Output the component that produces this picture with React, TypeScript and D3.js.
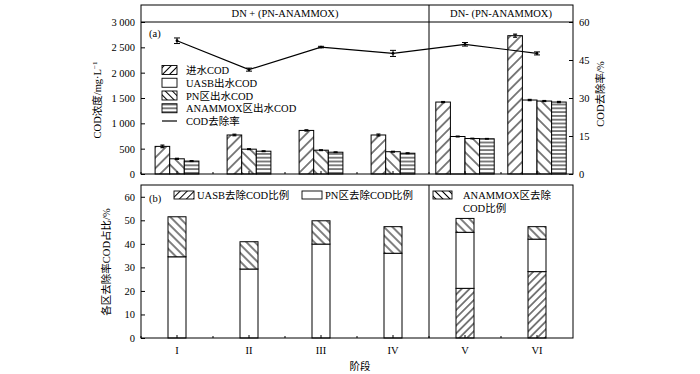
import React, { useEffect, useRef } from "react";
import * as d3 from "d3";

// stages
const stages = ["I", "II", "III", "IV", "V", "VI"];

// (a) COD concentration, mg/L
const inflowCOD = [545, 770, 860, 770, 1420, 2730];
const uasbCOD = [null, null, null, null, 740, 1460];
const pnCOD = [300, 490, 470, 440, 700, 1440];
const anammoxCOD = [255, 450, 430, 410, 695, 1420];
const inflowErr = [25, 15, 12, 18, 10, 30];
const uasbErr = [null, null, null, null, 8, 12];
const pnErr = [10, 8, 8, 8, 6, 10];
const anammoxErr = [8, 8, 6, 8, 6, 12];

// COD removal rate, %
const removalRate = [52.6, 41.2, 50.1, 47.6, 51.2, 47.6];
const removalErr = [1.1, 0.6, 0.3, 1.2, 0.7, 0.6];

// (b) share of removal by zone, %
const uasbShare = [0, 0, 0, 0, 21.1, 28.2];
const pnShare = [34.5, 29.3, 39.9, 36.0, 23.8, 13.8];
const anammoxShare = [17.0, 11.6, 9.9, 11.3, 5.9, 5.3];

const leftTicksA = [0, 500, 1000, 1500, 2000, 2500, 3000];
const rightTicksA = [0, 15, 30, 45, 60];
const ticksB = [0, 10, 20, 30, 40, 50, 60];

const FONT = "'Times New Roman', 'Liberation Serif', 'Noto Sans CJK SC', serif";

export default function App() {
  const svgRef = useRef<SVGSVGElement>(null);

  useEffect(() => {
    const svg = d3.select(svgRef.current);
    svg.selectAll("*").remove();

    const left = 141, right = 573;
    const topA = 5, headA = 22, baseA = 174;
    const topB = 185, baseB = 338;

    const x = d3.scaleBand().domain(stages).range([left, right]);
    const yA = d3.scaleLinear().domain([0, 3000]).range([baseA, headA]);
    const yR = d3.scaleLinear().domain([0, 60]).range([baseA, headA]);
    const yB = d3.scaleLinear().domain([0, 65]).range([baseB, topB]);
    const cx = (s) => x(s) + x.bandwidth() / 2;

    // hatch patterns
    const defs = svg.append("defs");
    const hatch = (id, size, angle) => {
      const p = defs.append("pattern")
        .attr("id", id).attr("patternUnits", "userSpaceOnUse")
        .attr("width", size).attr("height", size)
        .attr("patternTransform", `rotate(${angle})`);
      p.append("rect").attr("width", size).attr("height", size).attr("fill", "#fff");
      p.append("line").attr("x1", size / 2).attr("x2", size / 2).attr("y1", 0).attr("y2", size)
        .attr("stroke", "#000").attr("stroke-width", 1);
    };
    hatch("fwdA", 7.5, 45);
    hatch("bckA", 7.5, -45);
    hatch("fwdB", 5.5, 45);
    hatch("bckB", 6, -45);
    hatch("fwdL", 5, 45);
    hatch("bckL", 5, -45);
    const hz = defs.append("pattern").attr("id", "horz").attr("patternUnits", "userSpaceOnUse")
      .attr("width", 4).attr("height", 3.8);
    hz.append("rect").attr("width", 4).attr("height", 3.8).attr("fill", "#fff");
    hz.append("line").attr("x1", 0).attr("x2", 4).attr("y1", 1.9).attr("y2", 1.9)
      .attr("stroke", "#000").attr("stroke-width", 1);

    const g = svg.append("g").attr("font-family", FONT).attr("fill", "#000");

    // ---------- panel (a) ----------
    const series = [
      { vals: inflowCOD, err: inflowErr, fill: "url(#fwdA)" },
      { vals: uasbCOD, err: uasbErr, fill: "#fff" },
      { vals: pnCOD, err: pnErr, fill: "url(#bckA)" },
      { vals: anammoxCOD, err: anammoxErr, fill: "url(#horz)" },
    ];
    const barW = 14.6;
    stages.forEach((s, i) => {
      const present = series.filter((d) => d.vals[i] != null);
      const n = present.length;
      const inner = d3.scaleBand().domain(d3.range(n)).range([cx(s) - (n * barW) / 2, cx(s) + (n * barW) / 2]);
      present.forEach((d, j) => {
        const v = d.vals[i];
        g.append("rect")
          .attr("x", inner(j)).attr("y", yA(v))
          .attr("width", inner.bandwidth()).attr("height", baseA - yA(v))
          .attr("fill", d.fill).attr("stroke", "#000").attr("stroke-width", 1);
        const e = d.err[i];
        const mx = inner(j) + inner.bandwidth() / 2;
        g.append("line").attr("x1", mx).attr("x2", mx).attr("y1", yA(v + e)).attr("y2", yA(v - e))
          .attr("stroke", "#000").attr("stroke-width", 1);
        [v + e, v - e].forEach((t) => g.append("line")
          .attr("x1", mx - 2).attr("x2", mx + 2).attr("y1", yA(t)).attr("y2", yA(t))
          .attr("stroke", "#000").attr("stroke-width", 1.2));
      });
    });

    // removal rate line
    const line = d3.line().x((d, i) => cx(stages[i])).y((d) => yR(d));
    g.append("path").datum(removalRate).attr("d", line)
      .attr("fill", "none").attr("stroke", "#000").attr("stroke-width", 1.2);
    removalRate.forEach((v, i) => {
      const px = cx(stages[i]);
      const e = removalErr[i];
      g.append("line").attr("x1", px).attr("x2", px).attr("y1", yR(v + e)).attr("y2", yR(v - e))
        .attr("stroke", "#000").attr("stroke-width", 1);
      [v + e, v - e].forEach((t) => g.append("line")
        .attr("x1", px - 3).attr("x2", px + 3).attr("y1", yR(t)).attr("y2", yR(t))
        .attr("stroke", "#000").attr("stroke-width", 1));
      g.append("circle").attr("cx", px).attr("cy", yR(v)).attr("r", 1.4).attr("fill", "#000");
    });

    // frame (a)
    g.append("rect").attr("x", left).attr("y", topA).attr("width", right - left).attr("height", baseA - topA)
      .attr("fill", "none").attr("stroke", "#000").attr("stroke-width", 1);
    g.append("line").attr("x1", left).attr("x2", right).attr("y1", headA).attr("y2", headA)
      .attr("stroke", "#000").attr("stroke-width", 1);
    const divX = x(stages[4]);
    g.append("line").attr("x1", divX).attr("x2", divX).attr("y1", topA).attr("y2", baseA)
      .attr("stroke", "#000").attr("stroke-width", 1);

    g.append("text").attr("x", (left + divX) / 2).attr("y", 17).attr("text-anchor", "middle")
      .attr("font-size", 10.5).text("DN + (PN-ANAMMOX)");
    g.append("text").attr("x", (divX + right) / 2).attr("y", 17).attr("text-anchor", "middle")
      .attr("font-size", 10.5).text("DN- (PN-ANAMMOX)");
    g.append("text").attr("x", 149).attr("y", 37).attr("font-size", 10.5).text("(a)");

    // axes (a)
    const axL = g.append("g").attr("transform", `translate(${left},0)`)
      .call(d3.axisLeft(yA).tickValues(leftTicksA).tickSize(-4).tickPadding(6)
        .tickFormat((d) => d3.format(",")(d).replace(",", " ")));
    const axR = g.append("g").attr("transform", `translate(${right},0)`)
      .call(d3.axisRight(yR).tickValues(rightTicksA).tickSize(-4).tickPadding(6));
    [axL, axR].forEach((a) => {
      a.select(".domain").remove();
      a.selectAll("text").attr("font-family", FONT).attr("font-size", 10.5);
    });

    // x ticks (a)
    stages.forEach((s) => {
      g.append("line").attr("x1", cx(s)).attr("x2", cx(s)).attr("y1", baseA).attr("y2", baseA - 3)
        .attr("stroke", "#000");
      g.append("line").attr("x1", x(s)).attr("x2", x(s)).attr("y1", baseA).attr("y2", baseA - 2)
        .attr("stroke", "#000");
    });

    // legend (a)
    const legA = [
      { label: "进水COD", fill: "url(#fwdL)" },
      { label: "UASB出水COD", fill: "#fff" },
      { label: "PN区出水COD", fill: "url(#bckL)" },
      { label: "ANAMMOX区出水COD", fill: "url(#horz)" },
    ];
    legA.forEach((d, i) => {
      const yy = 70 + i * 12.75;
      g.append("rect").attr("x", 162).attr("y", yy - 4.5).attr("width", 15).attr("height", 9)
        .attr("fill", d.fill).attr("stroke", "#000").attr("stroke-width", 0.9);
      g.append("text").attr("x", 186).attr("y", yy + 4).attr("font-size", 10.5).text(d.label);
    });
    const yLine = 70 + 4 * 12.75;
    g.append("line").attr("x1", 162).attr("x2", 177).attr("y1", yLine).attr("y2", yLine)
      .attr("stroke", "#000").attr("stroke-width", 1.2);
    g.append("text").attr("x", 186).attr("y", yLine + 4).attr("font-size", 10.5).text("COD去除率");

    // y labels (a)
    const lt = g.append("text").attr("transform", "translate(101,100) rotate(-90)")
      .attr("text-anchor", "middle").attr("font-size", 10.5);
    lt.append("tspan").text("COD浓度/mg·L");
    lt.append("tspan").attr("font-size", 7).attr("dy", -4).text("−1");
    g.append("text").attr("transform", "translate(604,94) rotate(-90)")
      .attr("text-anchor", "middle").attr("font-size", 10.5).text("COD去除率/%");

    // ---------- panel (b) ----------
    const bW = 18;
    stages.forEach((s, i) => {
      const parts = [
        { v: uasbShare[i], fill: "url(#fwdB)" },
        { v: pnShare[i], fill: "#fff" },
        { v: anammoxShare[i], fill: "url(#bckB)" },
      ];
      let acc = 0;
      parts.forEach((p) => {
        if (!p.v) return;
        g.append("rect").attr("x", cx(s) - bW / 2).attr("y", yB(acc + p.v))
          .attr("width", bW).attr("height", yB(acc) - yB(acc + p.v))
          .attr("fill", p.fill).attr("stroke", "#000").attr("stroke-width", 1);
        acc += p.v;
      });
    });

    g.append("rect").attr("x", left).attr("y", topB).attr("width", right - left).attr("height", baseB - topB)
      .attr("fill", "none").attr("stroke", "#000").attr("stroke-width", 1);
    g.append("line").attr("x1", divX).attr("x2", divX).attr("y1", topB).attr("y2", baseB)
      .attr("stroke", "#000").attr("stroke-width", 1);
    g.append("text").attr("x", 149).attr("y", 202).attr("font-size", 10.5).text("(b)");

    const axB = g.append("g").attr("transform", `translate(${left},0)`)
      .call(d3.axisLeft(yB).tickValues(ticksB).tickSize(-4).tickPadding(6));
    axB.select(".domain").remove();
    axB.selectAll("text").attr("font-family", FONT).attr("font-size", 10.5);

    stages.forEach((s) => {
      g.append("line").attr("x1", cx(s)).attr("x2", cx(s)).attr("y1", baseB).attr("y2", baseB - 3)
        .attr("stroke", "#000");
      g.append("line").attr("x1", x(s)).attr("x2", x(s)).attr("y1", baseB).attr("y2", baseB - 2)
        .attr("stroke", "#000");
      g.append("text").attr("x", cx(s)).attr("y", 354).attr("text-anchor", "middle")
        .attr("font-size", 10.5).text(s);
    });
    g.append("text").attr("x", 360).attr("y", 370).attr("text-anchor", "middle")
      .attr("font-size", 10.5).text("阶段");
    g.append("text").attr("transform", "translate(110,262) rotate(-90)")
      .attr("text-anchor", "middle").attr("font-size", 10.5).text("各区去除率COD占比/%");

    // legend (b)
    const legB = [
      { x: 174, label: "UASB去除COD比例", fill: "url(#fwdL)" },
      { x: 302, label: "PN区去除COD比例", fill: "#fff" },
    ];
    legB.forEach((d) => {
      g.append("rect").attr("x", d.x).attr("y", 191).attr("width", 20).attr("height", 8)
        .attr("fill", d.fill).attr("stroke", "#000").attr("stroke-width", 0.9);
      g.append("text").attr("x", d.x + 23).attr("y", 199).attr("font-size", 10.5).text(d.label);
    });
    g.append("rect").attr("x", 433).attr("y", 191).attr("width", 19).attr("height", 8)
      .attr("fill", "url(#bckL)").attr("stroke", "#000").attr("stroke-width", 0.9);
    g.append("text").attr("x", 463).attr("y", 199).attr("font-size", 10.5).text("ANAMMOX区去除");
    g.append("text").attr("x", 463).attr("y", 212).attr("font-size", 10.5).text("COD比例");
  }, []);

  return (
    <svg ref={svgRef} width={700} height={374}
      style={{ position: "absolute", left: 0, top: 0, background: "#fff" }} />
  );
}
